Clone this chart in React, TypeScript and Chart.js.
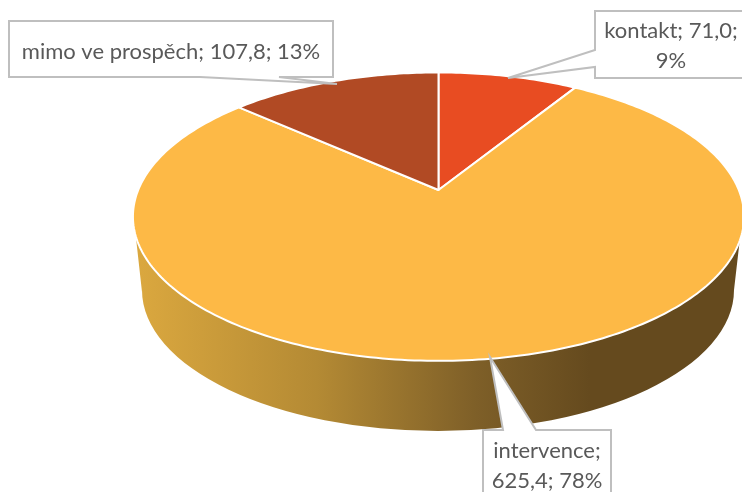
import React, { useEffect, useRef } from "react";
import { Chart, registerables } from "chart.js";

Chart.register(...registerables);

const categories = ["kontakt", "intervence", "mimo ve prospěch"];
const values = [71.0, 625.4, 107.8];
const colors = ["#E84C22", "#FDB946", "#B14A24"];

const labelLines = [
  ["kontakt; 71,0;", "9%"],
  ["intervence;", "625,4; 78%"],
  ["mimo ve prospěch; 107,8; 13%"],
];

// Perspective of the pie's top face: unit circle -> screen
const APEX = { x: 438.5, y: 190 };
const K = 300.3;
const A = 104.2;
const C = -0.1847;

function project(theta: number) {
  const u = Math.sin(theta);
  const v = -Math.cos(theta);
  const d = 1 + C * v;
  return { x: APEX.x + (K * u) / d, y: (APEX.y + A * v) / d };
}

const callouts = [
  { box: [595, 11, 170, 67], tip: [508, 78], base: [[595, 50], [595, 67]], side: "left", cx: 671, ys: [31, 61] },
  { box: [483, 430, 128, 80], tip: [490, 357], base: [[503, 430], [536, 430]], side: "top", cx: 547, ys: [451, 481] },
  { box: [9, 21, 324, 56], tip: [337, 84], base: [[279, 77], [200, 77]], side: "bottom", cx: 171, ys: [52] },
];

const pie3d = {
  id: "pie3d",
  beforeDatasetDraw(chart: any) {
    const ctx = chart.ctx;
    const meta = chart.getDatasetMeta(0);
    const ds = chart.data.datasets[0];

    // rim
    const grad = ctx.createLinearGradient(135, 0, 590, 0);
    grad.addColorStop(0, "#DBA83F");
    grad.addColorStop(0.4, "#B48A34");
    grad.addColorStop(0.75, "#7E5F28");
    grad.addColorStop(1, "#654A1E");
    ctx.save();
    ctx.beginPath();
    ctx.moveTo(136, 238);
    ctx.lineTo(142, 292);
    ctx.ellipse(438, 290, 296, 141, 0, Math.PI, 0, true);
    ctx.lineTo(740, 238);
    ctx.closePath();
    ctx.fillStyle = grad;
    ctx.fill();
    ctx.restore();

    // top face
    meta.data.forEach((arc: any, i: number) => {
      const s = arc.startAngle + Math.PI / 2;
      const e = arc.endAngle + Math.PI / 2;
      ctx.save();
      ctx.beginPath();
      ctx.moveTo(APEX.x, APEX.y);
      const n = Math.ceil(((e - s) * 180) / Math.PI);
      for (let j = 0; j <= n; j++) {
        const p = project(s + ((e - s) * j) / n);
        ctx.lineTo(p.x, p.y);
      }
      ctx.closePath();
      ctx.fillStyle = ds.backgroundColor[i];
      ctx.fill();
      ctx.strokeStyle = "#FFFFFF";
      ctx.lineWidth = 2;
      ctx.lineJoin = "round";
      ctx.stroke();
      ctx.restore();
    });
    return false;
  },
  afterDraw(chart: any) {
    const ctx = chart.ctx;
    callouts.forEach((c, i) => {
      const [x, y, w, h] = c.box;
      ctx.save();
      ctx.beginPath();
      ctx.moveTo(x, y);
      const pts: number[][] = [];
      if (c.side === "top") {
        pts.push(c.base[0], c.tip, c.base[1], [x + w, y], [x + w, y + h], [x, y + h]);
      } else if (c.side === "bottom") {
        pts.push([x + w, y], [x + w, y + h], c.base[0], c.tip, c.base[1], [x, y + h]);
      } else {
        pts.push([x + w, y], [x + w, y + h], [x, y + h], c.base[1], c.tip, c.base[0]);
      }
      pts.forEach((p) => ctx.lineTo(p[0], p[1]));
      ctx.closePath();
      ctx.fillStyle = "#FFFFFF";
      ctx.fill();
      ctx.strokeStyle = "#BFBFBF";
      ctx.lineWidth = 2;
      ctx.stroke();
      ctx.fillStyle = "#595959";
      ctx.font = '22px Lato, "Open Sans", sans-serif';
      ctx.textAlign = "center";
      ctx.textBaseline = "middle";
      labelLines[i].forEach((t, j) => ctx.fillText(t, c.cx, c.ys[j]));
      ctx.restore();
    });
  },
};

export default function App() {
  const ref = useRef<HTMLCanvasElement>(null);
  useEffect(() => {
    document.body.style.margin = "0";
    const chart = new Chart(ref.current as HTMLCanvasElement, {
      type: "pie",
      data: {
        labels: categories,
        datasets: [{ data: values, backgroundColor: colors, borderWidth: 0 }],
      },
      options: {
        responsive: false,
        animation: false,
        plugins: { legend: { display: false }, tooltip: { enabled: false } },
      },
      plugins: [pie3d],
    } as any);
    return () => chart.destroy();
  }, []);
  return <canvas ref={ref} width={742} height={492} style={{ display: "block" }} />;
}
